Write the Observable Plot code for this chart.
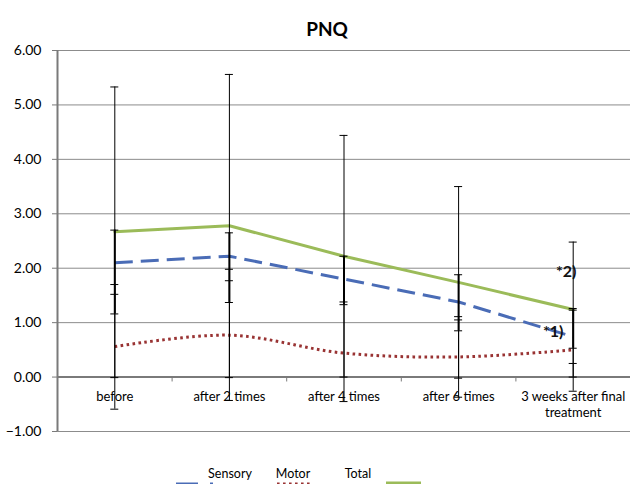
<!DOCTYPE html>
<html><head><meta charset="utf-8">
<script src="https://cdn.jsdelivr.net/npm/d3@7"></script>
<script src="https://cdn.jsdelivr.net/npm/@observablehq/plot@0.6"></script>
<style>body{margin:0;background:#fff} svg{overflow:visible}</style>
</head><body><div id="chart"></div>
<script>
const title = "PNQ";
const categories = ["before", "after 2 times", "after 4 times", "after 6 times", "3 weeks after final\ntreatment"];
const seriesNames = ["Sensory", "Motor", "Total"];
const sensory = [2.10, 2.22, 1.80, 1.38, 0.74];
const motor   = [0.56, 0.77, 0.44, 0.37, 0.50];
const total   = [2.67, 2.78, 2.22, 1.74, 1.24];
// error bar extents
const sensoryErrLo = [1.16, 1.37, 1.33, 0.85, 0.53];
const sensoryErrHi = [2.70, 2.65, 2.22, 1.88, 1.23];
const motorErrLo   = [-0.59, -0.43, -0.45, -0.37, -0.26];
const motorErrHi   = [1.70, 1.98, 1.38, 1.11, 1.26];
const totalErrLo   = [-0.01, -0.01, 0.00, -0.02, 0.00];
const totalErrHi   = [5.33, 5.56, 4.44, 3.50, 2.48];
const extraCaps    = [1.52, 1.77, null, 1.05, 0.25];
const yTicks = [-1, 0, 1, 2, 3, 4, 5, 6];
const annotations = [
  {label: "*2)", cat: 4, value: 1.93, dx: -7},
  {label: "*1)", cat: 4, value: 0.83, dx: -20}
];

const colors = {Sensory: "#4a6cb6", Motor: "#993333", Total: "#9bbb59"};
const pos = i => i + 0.5;
const rows = categories.map((c, i) => ({i, cat: c, Sensory: sensory[i], Motor: motor[i], Total: total[i]}));
const errRows = [];
categories.forEach((c, i) => {
  errRows.push({i, lo: motorErrLo[i], hi: motorErrHi[i], w: 1});
  errRows.push({i, lo: totalErrLo[i], hi: totalErrHi[i], w: 1});
  errRows.push({i, lo: sensoryErrLo[i], hi: sensoryErrHi[i], w: 2});
});
const caps = [];
errRows.forEach(r => { caps.push({i: r.i, y: r.lo}); caps.push({i: r.i, y: r.hi}); });
extraCaps.forEach((v, i) => { if (v != null) caps.push({i, y: v}); });
const capHalf = 0.035;

const font = "Lato, 'Open Sans', sans-serif";
const plot = Plot.plot({
  width: 630, height: 484,
  marginTop: 50, marginBottom: 53, marginLeft: 57, marginRight: 0,
  style: {fontFamily: font, fontSize: "13px", background: "white", color: "#000"},
  x: {domain: [0, categories.length], axis: null},
  y: {domain: [-1, 6], axis: null},
  marks: [
    Plot.ruleY(yTicks, {stroke: "#8c8c8c", strokeWidth: 1}),
    Plot.ruleY([0], {stroke: "#7a7a7a", strokeWidth: 2}),
    Plot.ruleX([0], {stroke: "#7a7a7a", strokeWidth: 2}),
    Plot.ruleX(d3.range(1, categories.length), {y1: 0, y2: -0.09, stroke: "#7a7a7a"}),
    Plot.axisY({ticks: yTicks, tickFormat: d3.format(".2f"), tickSize: 5, tickPadding: 11, stroke: "#7a7a7a", fontSize: 14, label: null}),
    Plot.text(rows, {x: d => pos(d.i), y: 0, text: "cat", dy: 12, lineAnchor: "top", fontSize: 13, lineHeight: 1.25}),
    Plot.line(rows, {x: d => pos(d.i), y: "Total", stroke: colors.Total, strokeWidth: 3}),
    Plot.line(rows, {x: d => pos(d.i), y: "Sensory", stroke: colors.Sensory, strokeWidth: 3, strokeDasharray: "18,8", strokeLinecap: "butt"}),
    Plot.line(rows, {x: d => pos(d.i), y: "Motor", stroke: colors.Motor, strokeWidth: 3, strokeDasharray: "2.6,3.4", strokeLinecap: "butt", curve: "catmull-rom"}),
    Plot.ruleX(errRows, {x: d => pos(d.i), y1: "lo", y2: "hi", stroke: "#000", strokeWidth: d => d.w}),
    Plot.ruleY(caps, {y: "y", x1: d => pos(d.i) - capHalf, x2: d => pos(d.i) + capHalf, stroke: "#000", strokeWidth: 1}),
    ...annotations.map(a => Plot.text([a], {x: d => pos(d.cat), y: "value", text: "label", dx: a.dx, fontWeight: "bold", fontSize: 16, fill: "#111"})),
    Plot.text([title], {frameAnchor: "top", dy: -28, dx: -17, fontWeight: "bold", fontSize: 19})
  ]
});
document.getElementById("chart").appendChild(plot);

// legend (partially clipped at the bottom, as in the reference)
const svg = d3.select(plot);
const lg = svg.append("g").attr("font-family", font).attr("font-size", 12.5);
const legendItems = [
  {name: "Sensory", tx: 230, sx1: 176, sx2: 200, dash: "22,6", w: 3},
  {name: "Motor", tx: 293, sx1: 277, sx2: 313, dash: "2.6,3.4", w: 3},
  {name: "Total", tx: 358, sx1: 386, sx2: 421, dash: null, w: 5}
];
legendItems.forEach(d => {
  lg.append("text").attr("x", d.tx).attr("y", 478).attr("text-anchor", "middle").text(d.name);
  const l = lg.append("line").attr("x1", d.sx1).attr("x2", d.sx2).attr("y1", 484).attr("y2", 484)
    .attr("stroke", colors[d.name]).attr("stroke-width", d.w);
  if (d.dash) l.attr("stroke-dasharray", d.dash);
});
lg.append("line").attr("x1", 210).attr("x2", 213).attr("y1", 484).attr("y2", 484).attr("stroke", colors.Sensory).attr("stroke-width", 3);
</script>
</body></html>
